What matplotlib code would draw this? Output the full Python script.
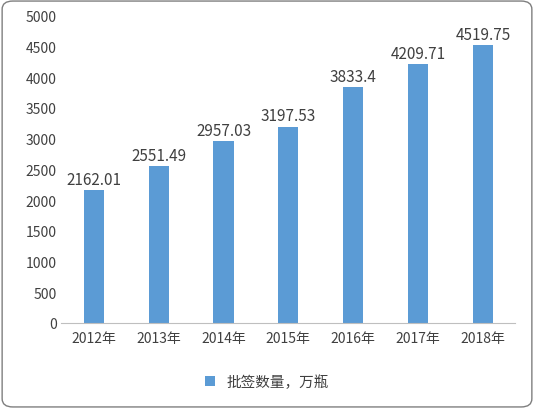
import matplotlib
matplotlib.use('Agg')
import matplotlib.pyplot as plt
from matplotlib.patches import FancyBboxPatch

plt.rcParams['font.family'] = ['Noto Sans CJK SC', 'DejaVu Sans']

years = ['2012年', '2013年', '2014年', '2015年', '2016年', '2017年', '2018年']
values = [2162.01, 2551.49, 2957.03, 3197.53, 3833.4, 4209.71, 4519.75]
labels = ['2162.01', '2551.49', '2957.03', '3197.53', '3833.4', '4209.71', '4519.75']
series_name = '批签数量，万瓶'

fig = plt.figure(figsize=(5.34, 4.10), dpi=100)
fig.patches.append(FancyBboxPatch((0.004, 0.005), 0.992, 0.99, boxstyle='round,pad=0,rounding_size=0.02',
                                  transform=fig.transFigure, fill=False, edgecolor='#7f7f7f', lw=1))
ax = fig.add_axes([0.115, 0.21, 0.85, 0.749])
x = range(len(years))
bars = ax.bar(x, values, width=0.31, color='#5B9BD5', label=series_name)
for xi, v, l in zip(x, values, labels):
    ax.text(xi, v + 40, l, ha='center', va='bottom', fontsize=11, color='#404040')
ax.set_ylim(0, 5000)
ax.set_yticks(range(0, 5001, 500))
ax.set_xlim(-0.5, len(years) - 0.5)
ax.set_xticks(list(x))
ax.set_xticklabels(years)
for s in ['top', 'right', 'left']:
    ax.spines[s].set_visible(False)
ax.spines['bottom'].set_color('#bfbfbf')
ax.tick_params(axis='both', length=0, labelsize=10, colors='#404040')
ax.tick_params(axis='x', pad=6)
fig.legend(handles=[bars], labels=[series_name], loc='center', bbox_to_anchor=(0.5, 0.066),
           frameon=False, fontsize=10.5, handlelength=0.7, handleheight=0.7, labelcolor='#404040')
fig.savefig('out.png', dpi=100)
